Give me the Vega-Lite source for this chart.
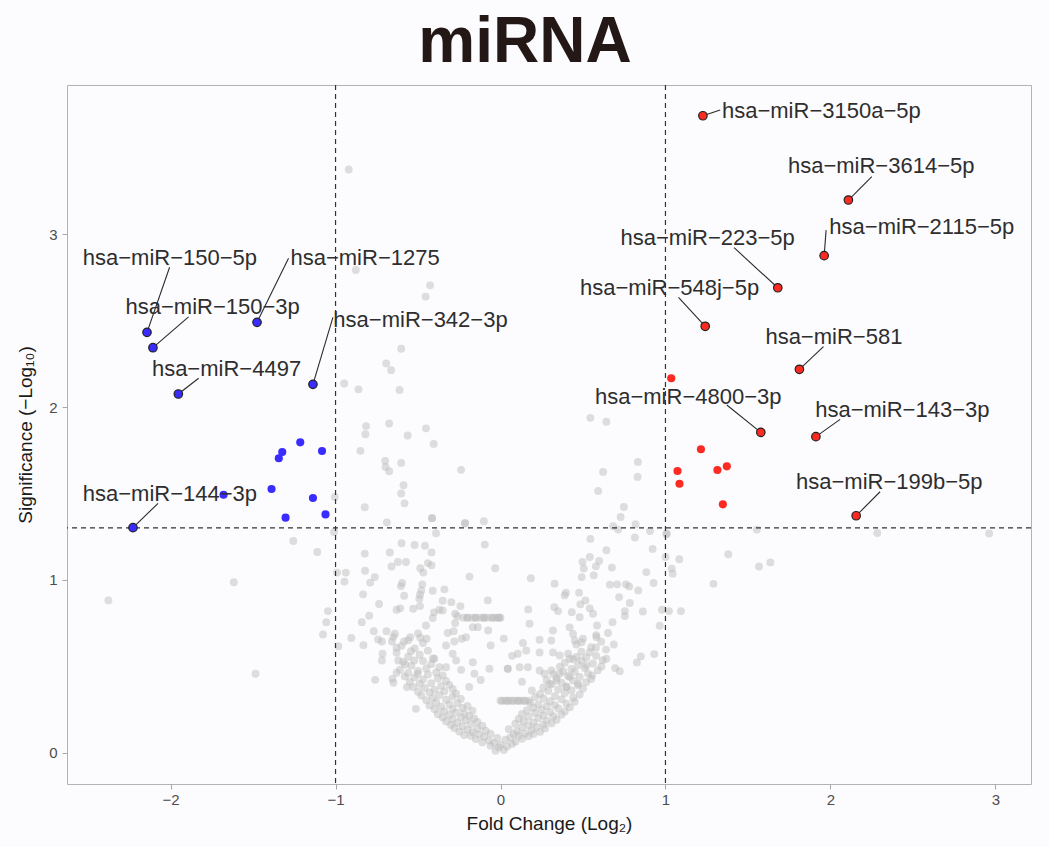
{
  "$schema": "https://vega.github.io/schema/vega-lite/v6.json",
  "width": 964,
  "height": 699,
  "autosize": {"type": "none"},
  "padding": {"left": 67, "top": 85, "right": 18, "bottom": 63},
  "background": "#fcfcfe",
  "title": {"text": "miRNA", "font": "Liberation Sans", "fontSize": 64, "fontWeight": "bold", "color": "#231815", "anchor": "middle", "frame": "group", "dx": -24, "offset": -55, "baseline": "bottom"},
  "config": {
    "view": {"stroke": "#b3b3b3", "strokeWidth": 1, "fill": "#fcfcfe"},
    "axis": {"grid": false, "domain": false, "tickColor": "#a8a8a8", "tickSize": 5, "labelFont": "Liberation Sans", "labelFontSize": 15, "labelColor": "#4d4d4d", "titleFont": "Liberation Sans", "titleFontSize": 19, "titleFontWeight": "normal", "titleColor": "#1a1a1a"}
  },
  "datasets": {
    "grey": [
      {"x":-0.92,"y":3.376},{"x":-0.877,"y":2.794},{"x":-0.427,"y":2.705},{"x":-0.454,"y":2.64},{"x":-0.602,"y":2.338},{"x":-0.693,"y":2.253},{"x":-0.663,"y":2.214},{"x":-0.948,"y":2.137},{"x":-0.861,"y":2.103},{"x":-0.612,"y":2.099},
      {"x":-0.815,"y":1.89},{"x":-0.675,"y":1.905},{"x":-0.452,"y":1.877},{"x":-0.819,"y":1.843},{"x":-0.563,"y":1.836},{"x":-0.405,"y":1.787},{"x":-0.849,"y":1.747},{"x":-0.699,"y":1.689},{"x":-0.697,"y":1.654},{"x":-0.675,"y":1.629},
      {"x":-0.602,"y":1.677},{"x":-0.239,"y":1.637},{"x":-0.588,"y":1.548},{"x":-0.602,"y":1.5},{"x":-0.582,"y":1.443},{"x":-1.005,"y":1.48},{"x":-0.823,"y":1.42},{"x":-0.689,"y":1.333},{"x":-0.415,"y":1.357},{"x":-0.415,"y":1.357},
      {"x":-0.215,"y":1.328},{"x":-0.215,"y":1.328},{"x":-0.101,"y":1.339},{"x":-1.009,"y":1.277},{"x":-0.391,"y":1.27},{"x":-1.111,"y":1.161},{"x":-0.823,"y":1.152},{"x":-0.671,"y":1.158},{"x":-0.6,"y":1.212},{"x":-0.521,"y":1.202},
      {"x":-0.458,"y":1.198},{"x":-0.418,"y":1.159},{"x":-0.095,"y":1.204},{"x":-0.622,"y":1.103},{"x":-0.573,"y":1.103},{"x":-0.661,"y":1.077},{"x":-0.44,"y":1.097},{"x":-0.418,"y":1.084},{"x":-0.486,"y":1.067},{"x":-0.468,"y":1.042},
      {"x":-0.032,"y":1.067},{"x":-0.188,"y":1.019},{"x":-0.991,"y":1.042},{"x":-0.938,"y":1.042},{"x":-0.946,"y":0.99},{"x":-0.821,"y":1.053},{"x":-0.762,"y":1.016},{"x":-0.79,"y":0.984},{"x":-0.596,"y":0.982},{"x":-0.474,"y":0.974},
      {"x":-2.377,"y":0.881},{"x":-1.617,"y":0.986},{"x":-1.485,"y":0.456},{"x":-1.256,"y":1.225},{"x":-0.604,"y":0.964},{"x":-0.411,"y":0.937},{"x":-0.34,"y":0.945},{"x":-0.833,"y":0.916},{"x":-0.584,"y":0.908},{"x":-0.488,"y":0.914},
      {"x":-0.48,"y":0.939},{"x":-0.492,"y":0.891},{"x":-0.736,"y":0.86},{"x":-0.351,"y":0.879},{"x":-0.298,"y":0.871},{"x":-0.488,"y":0.848},{"x":-0.63,"y":0.827},{"x":-0.608,"y":0.835},{"x":-0.529,"y":0.833},{"x":-0.243,"y":0.848},
      {"x":-0.077,"y":0.881},{"x":-1.046,"y":0.819},{"x":-0.796,"y":0.792},{"x":-0.403,"y":0.812},{"x":-0.371,"y":0.827},{"x":-0.351,"y":0.823},{"x":-0.275,"y":0.804},{"x":-0.261,"y":0.79},
      {"x":-0.225,"y":0.781},{"x":-0.2,"y":0.781},{"x":-0.17,"y":0.781},{"x":-0.15,"y":0.781},{"x":-0.12,"y":0.781},{"x":-0.1,"y":0.781},{"x":-0.08,"y":0.781},{"x":-0.05,"y":0.781},{"x":-0.03,"y":0.781},{"x":-0.01,"y":0.781},{"x":0.0,"y":0.781},
      {"x":-0.2,"y":0.781},{"x":-0.15,"y":0.781},{"x":-0.1,"y":0.781},{"x":-0.05,"y":0.781},{"x":-0.01,"y":0.781},
      {"x":-1.056,"y":0.755},{"x":-0.841,"y":0.755},{"x":-1.076,"y":0.684},{"x":-0.904,"y":0.663},{"x":-0.983,"y":0.616},{"x":-0.831,"y":0.622},{"x":-0.768,"y":0.703},{"x":-0.691,"y":0.703},{"x":-0.64,"y":0.688},{"x":-0.742,"y":0.655},
      {"x":-0.719,"y":0.643},{"x":-0.658,"y":0.643},{"x":-0.63,"y":0.607},{"x":-0.585,"y":0.643},{"x":-0.547,"y":0.668},{"x":-0.486,"y":0.665},{"x":-0.448,"y":0.659},{"x":-0.452,"y":0.736},{"x":-0.411,"y":0.779},{"x":-0.32,"y":0.692},
      {"x":-0.284,"y":0.703},{"x":-0.275,"y":0.75},{"x":-0.209,"y":0.668},{"x":-0.235,"y":0.659},{"x":-0.28,"y":0.643},{"x":-0.33,"y":0.62},{"x":-0.168,"y":0.726},{"x":-0.138,"y":0.726},{"x":-0.075,"y":0.707},{"x":-0.715,"y":0.572},
      {"x":-0.719,"y":0.533},{"x":-0.62,"y":0.533},{"x":-0.578,"y":0.51},{"x":-0.523,"y":0.533},{"x":-0.543,"y":0.587},{"x":-0.503,"y":0.456},{"x":-0.63,"y":0.462},{"x":-0.655,"y":0.427},{"x":-0.649,"y":0.404},{"x":-0.76,"y":0.421},
      {"x":-0.567,"y":0.379},{"x":-0.513,"y":0.253},{"x":-0.401,"y":0.543},{"x":-0.33,"y":0.494},{"x":-0.29,"y":0.572},{"x":-0.269,"y":0.533},{"x":-0.239,"y":0.479},{"x":-0.168,"y":0.523},{"x":-0.158,"y":0.456},{"x":-0.067,"y":0.485},
      {"x":0.833,"y":1.683},{"x":0.831,"y":1.596},{"x":0.622,"y":1.625},{"x":0.592,"y":1.515},{"x":0.748,"y":1.422},{"x":0.728,"y":1.364},{"x":0.683,"y":1.31},{"x":0.713,"y":1.291},{"x":0.819,"y":1.322},{"x":0.906,"y":1.283},
      {"x":1.007,"y":1.264},{"x":0.545,"y":1.237},{"x":0.642,"y":1.171},{"x":0.815,"y":1.245},{"x":0.922,"y":1.179},{"x":0.497,"y":1.103},{"x":0.541,"y":1.132},{"x":0.598,"y":1.109},{"x":0.505,"y":1.065},{"x":0.578,"y":1.078},
      {"x":0.565,"y":1.026},{"x":0.492,"y":1.016},{"x":0.675,"y":1.071},{"x":0.884,"y":1.045},{"x":0.928,"y":0.982},{"x":0.835,"y":0.939},{"x":1.001,"y":1.132},{"x":1.038,"y":1.065},{"x":1.084,"y":1.119},{"x":1.044,"y":1.036},
      {"x":0.663,"y":0.972},{"x":0.707,"y":0.974},{"x":0.76,"y":0.974},{"x":0.78,"y":0.962},{"x":0.184,"y":1.009},{"x":0.328,"y":0.978},{"x":0.397,"y":0.926},{"x":0.476,"y":0.926},{"x":0.515,"y":0.881},{"x":0.484,"y":0.858},
      {"x":0.389,"y":0.91},{"x":0.719,"y":0.9},{"x":0.784,"y":0.866},{"x":0.863,"y":0.817},{"x":0.754,"y":0.819},{"x":0.754,"y":0.79},{"x":0.979,"y":0.827},{"x":1.021,"y":0.819},{"x":1.094,"y":0.819},{"x":0.965,"y":0.734},
      {"x":0.932,"y":0.57},{"x":0.851,"y":0.557},{"x":0.827,"y":0.522},{"x":0.326,"y":0.842},{"x":0.349,"y":0.819},{"x":0.541,"y":0.835},{"x":0.561,"y":0.804},{"x":0.432,"y":0.813},{"x":0.48,"y":0.784},{"x":0.168,"y":0.829},
      {"x":0.176,"y":0.746},{"x":0.419,"y":0.725},{"x":0.44,"y":0.687},{"x":0.585,"y":0.736},{"x":0.679,"y":0.755},{"x":0.652,"y":0.692},{"x":0.582,"y":0.668},{"x":0.687,"y":0.626},{"x":0.578,"y":0.607},{"x":0.541,"y":0.581},
      {"x":0.491,"y":0.639},{"x":0.45,"y":0.649},{"x":0.318,"y":0.707},{"x":0.237,"y":0.653},{"x":0.308,"y":0.649},{"x":0.136,"y":0.634},{"x":0.156,"y":0.591},{"x":0.105,"y":0.572},{"x":0.237,"y":0.58},{"x":0.318,"y":0.58},
      {"x":0.359,"y":0.562},{"x":0.419,"y":0.543},{"x":0.46,"y":0.553},{"x":0.491,"y":0.533},{"x":0.521,"y":0.504},{"x":0.642,"y":0.543},{"x":0.612,"y":0.499},{"x":0.695,"y":0.489},{"x":0.723,"y":0.471},{"x":0.555,"y":0.446},
      {"x":0.044,"y":0.485},{"x":0.044,"y":0.485},{"x":0.116,"y":0.494},{"x":0.166,"y":0.494},{"x":0.237,"y":0.475},{"x":0.267,"y":0.456},{"x":0.308,"y":0.475},{"x":0.359,"y":0.456},{"x":0.419,"y":0.437},{"x":0.47,"y":0.398},
      {"x":0.399,"y":0.379},{"x":0.339,"y":0.417},{"x":0.298,"y":0.398},{"x":0.545,"y":1.938},{"x":0.642,"y":1.915},{"x":1.381,"y":1.148},{"x":1.567,"y":1.077},{"x":1.636,"y":1.101},{"x":1.291,"y":0.977},{"x":1.554,"y":1.291},
      {"x":2.284,"y":1.271},{"x":2.962,"y":1.268},{"x":1.007,"y":1.268},
      {"x":0.0,"y":0.3},{"x":0.03,"y":0.3},{"x":0.05,"y":0.3},{"x":0.08,"y":0.3},{"x":0.1,"y":0.3},{"x":0.12,"y":0.3},{"x":0.15,"y":0.3},{"x":0.17,"y":0.3},
      {"x":0.01,"y":0.3},{"x":0.04,"y":0.3},{"x":0.07,"y":0.3},{"x":0.11,"y":0.3},{"x":0.14,"y":0.3},
      {"x":-0.03,"y":0.01},{"x":0.02,"y":0.015},{"x":-0.01,"y":0.03},{"x":0.04,"y":0.035},{"x":-0.06,"y":0.04},{"x":0.0,"y":0.045},{"x":0.07,"y":0.05},{"x":-0.04,"y":0.055},
      {"x":-0.11,"y":0.06},{"x":0.09,"y":0.062},{"x":-0.07,"y":0.07},{"x":0.03,"y":0.075},{"x":-0.15,"y":0.078},{"x":0.13,"y":0.08},{"x":-0.02,"y":0.085},{"x":0.06,"y":0.088},{"x":-0.1,"y":0.092},{"x":0.17,"y":0.095},{"x":-0.18,"y":0.097},{"x":0.11,"y":0.099},
      {"x":-0.22,"y":0.102},{"x":-0.13,"y":0.105},{"x":0.08,"y":0.106},{"x":0.2,"y":0.108},{"x":-0.06,"y":0.11},{"x":0.15,"y":0.112},{"x":-0.17,"y":0.118},{"x":0.24,"y":0.12},{"x":-0.25,"y":0.122},{"x":0.1,"y":0.124},
      {"x":-0.09,"y":0.127},{"x":0.19,"y":0.13},{"x":-0.2,"y":0.133},{"x":0.05,"y":0.135},{"x":-0.14,"y":0.138},{"x":0.27,"y":0.14},{"x":-0.28,"y":0.142},{"x":0.13,"y":0.145},{"x":0.22,"y":0.148},
      {"x":-0.23,"y":0.152},{"x":-0.11,"y":0.155},{"x":0.17,"y":0.157},{"x":-0.3,"y":0.16},{"x":0.26,"y":0.162},{"x":-0.18,"y":0.165},{"x":0.09,"y":0.167},{"x":0.31,"y":0.17},{"x":-0.26,"y":0.172},{"x":0.2,"y":0.175},
      {"x":-0.14,"y":0.178},{"x":-0.33,"y":0.18},{"x":0.14,"y":0.182},{"x":0.28,"y":0.185},{"x":-0.21,"y":0.188},{"x":0.34,"y":0.19},{"x":-0.29,"y":0.193},{"x":0.11,"y":0.195},{"x":-0.16,"y":0.198},{"x":0.23,"y":0.2},
      {"x":-0.35,"y":0.203},{"x":-0.24,"y":0.205},{"x":0.17,"y":0.207},{"x":0.32,"y":0.21},{"x":-0.19,"y":0.212},{"x":0.26,"y":0.215},{"x":-0.31,"y":0.218},{"x":0.37,"y":0.22},{"x":-0.38,"y":0.222},{"x":0.13,"y":0.224},
      {"x":-0.22,"y":0.227},{"x":0.21,"y":0.23},{"x":-0.27,"y":0.233},{"x":0.3,"y":0.235},{"x":0.39,"y":0.238},{"x":-0.34,"y":0.24},{"x":-0.17,"y":0.243},{"x":0.16,"y":0.245},{"x":0.25,"y":0.248},
      {"x":-0.4,"y":0.251},{"x":-0.29,"y":0.253},{"x":0.35,"y":0.255},{"x":-0.23,"y":0.258},{"x":0.2,"y":0.26},{"x":0.42,"y":0.262},{"x":-0.36,"y":0.265},{"x":0.28,"y":0.268},{"x":-0.2,"y":0.27},{"x":-0.43,"y":0.273},
      {"x":0.33,"y":0.275},{"x":0.23,"y":0.278},{"x":-0.31,"y":0.28},{"x":0.4,"y":0.283},{"x":-0.26,"y":0.286},{"x":0.18,"y":0.288},{"x":-0.39,"y":0.291},{"x":0.45,"y":0.294},{"x":0.3,"y":0.297},
      {"x":-0.45,"y":0.303},{"x":-0.33,"y":0.306},{"x":0.37,"y":0.308},{"x":-0.24,"y":0.311},{"x":0.26,"y":0.313},{"x":-0.41,"y":0.316},{"x":0.44,"y":0.318},{"x":0.21,"y":0.321},{"x":-0.29,"y":0.324},{"x":0.33,"y":0.327},
      {"x":-0.48,"y":0.33},{"x":-0.37,"y":0.333},{"x":0.48,"y":0.336},{"x":0.24,"y":0.339},{"x":-0.27,"y":0.342},{"x":0.39,"y":0.345},{"x":-0.43,"y":0.348},
      {"x":-0.5,"y":0.352},{"x":-0.34,"y":0.355},{"x":0.29,"y":0.357},{"x":0.43,"y":0.36},{"x":-0.4,"y":0.363},{"x":0.35,"y":0.366},{"x":-0.29,"y":0.368},{"x":0.5,"y":0.371},{"x":-0.46,"y":0.374},{"x":0.26,"y":0.377},
      {"x":-0.53,"y":0.38},{"x":0.4,"y":0.383},{"x":-0.36,"y":0.386},{"x":0.47,"y":0.389},{"x":-0.31,"y":0.392},{"x":0.31,"y":0.395},{"x":-0.49,"y":0.398},
      {"x":-0.42,"y":0.402},{"x":0.37,"y":0.405},{"x":0.52,"y":0.408},{"x":-0.55,"y":0.411},{"x":-0.33,"y":0.414},{"x":0.44,"y":0.417},{"x":0.28,"y":0.42},{"x":-0.47,"y":0.423},{"x":0.55,"y":0.426},{"x":-0.38,"y":0.429},
      {"x":0.34,"y":0.432},{"x":-0.52,"y":0.435},{"x":0.48,"y":0.438},{"x":-0.58,"y":0.441},{"x":0.41,"y":0.444},{"x":-0.35,"y":0.447},
      {"x":-0.44,"y":0.452},{"x":0.32,"y":0.455},{"x":0.53,"y":0.458},{"x":-0.56,"y":0.461},{"x":-0.39,"y":0.464},{"x":0.45,"y":0.467},{"x":0.38,"y":0.47},{"x":-0.5,"y":0.473},{"x":0.59,"y":0.476},{"x":-0.61,"y":0.48},
      {"x":0.43,"y":0.484},{"x":-0.45,"y":0.487},{"x":0.51,"y":0.49},{"x":-0.37,"y":0.494},{"x":0.36,"y":0.497},
      {"x":-0.54,"y":0.503},{"x":0.47,"y":0.507},{"x":-0.42,"y":0.512},{"x":0.56,"y":0.516},{"x":0.39,"y":0.52},{"x":-0.59,"y":0.525},{"x":-0.47,"y":0.53},{"x":0.62,"y":0.535},{"x":0.44,"y":0.54},{"x":-0.41,"y":0.545},
      {"x":0.52,"y":0.55},{"x":-0.56,"y":0.555},{"x":0.58,"y":0.56},{"x":-0.49,"y":0.566},{"x":0.41,"y":0.572},{"x":-0.63,"y":0.578},{"x":0.49,"y":0.584},{"x":-0.44,"y":0.59},{"x":0.64,"y":0.596},
      {"x":-0.52,"y":0.603},{"x":0.55,"y":0.61},{"x":-0.6,"y":0.618},{"x":0.46,"y":0.626},{"x":-0.47,"y":0.634},{"x":0.61,"y":0.642},{"x":-0.56,"y":0.65},{"x":0.5,"y":0.66},{"x":-0.65,"y":0.67},{"x":0.58,"y":0.68},{"x":-0.5,"y":0.69},
      {"x":-0.12,"y":0.42},{"x":0.07,"y":0.56},{"x":-0.06,"y":0.62},{"x":0.19,"y":0.36},{"x":-0.19,"y":0.38},{"x":0.02,"y":0.66},{"x":0.13,"y":0.41}
    ],
    "sig": [
      {"x":-1.214,"y":1.796,"d":"down"},{"x":-1.323,"y":1.74,"d":"down"},{"x":-1.344,"y":1.704,"d":"down"},{"x":-1.082,"y":1.746,"d":"down"},{"x":-1.388,"y":1.526,"d":"down"},
      {"x":-1.679,"y":1.493,"d":"down"},{"x":-1.137,"y":1.474,"d":"down"},{"x":-1.061,"y":1.379,"d":"down"},{"x":-1.303,"y":1.36,"d":"down"},
      {"x":1.035,"y":2.167,"d":"up"},{"x":1.215,"y":1.756,"d":"up"},{"x":1.073,"y":1.63,"d":"up"},{"x":1.085,"y":1.556,"d":"up"},{"x":1.315,"y":1.636,"d":"up"},{"x":1.372,"y":1.657,"d":"up"},{"x":1.348,"y":1.437,"d":"up"}
    ],
    "lab": [
      {"label":"hsa−miR−3150a−5p","d":"up","x":1.227,"y":3.687,"sx":1.332,"sy":3.72,"tx":1.945,"ty":3.716},
      {"label":"hsa−miR−3614−5p","d":"up","x":2.109,"y":3.199,"sx":2.251,"sy":3.334,"tx":2.308,"ty":3.396},
      {"label":"hsa−miR−2115−5p","d":"up","x":1.962,"y":2.877,"sx":1.974,"sy":3.025,"tx":2.554,"ty":3.045},
      {"label":"hsa−miR−223−5p","d":"up","x":1.681,"y":2.691,"sx":1.416,"sy":2.923,"tx":1.256,"ty":2.977},
      {"label":"hsa−miR−548j−5p","d":"up","x":1.241,"y":2.468,"sx":1.079,"sy":2.636,"tx":1.025,"ty":2.688},
      {"label":"hsa−miR−581","d":"up","x":1.812,"y":2.219,"sx":1.958,"sy":2.35,"tx":2.021,"ty":2.408},
      {"label":"hsa−miR−4800−3p","d":"up","x":1.578,"y":1.854,"sx":1.372,"sy":2.012,"tx":1.138,"ty":2.06},
      {"label":"hsa−miR−143−3p","d":"up","x":1.912,"y":1.829,"sx":2.059,"sy":1.929,"tx":2.436,"ty":1.983},
      {"label":"hsa−miR−199b−5p","d":"up","x":2.156,"y":1.371,"sx":2.301,"sy":1.51,"tx":2.357,"ty":1.568},
      {"label":"hsa−miR−150−5p","d":"down","x":-2.143,"y":2.433,"sx":-2.006,"sy":2.81,"tx":-2.004,"ty":2.862},
      {"label":"hsa−miR−150−3p","d":"down","x":-2.107,"y":2.344,"sx":-1.891,"sy":2.523,"tx":-1.745,"ty":2.578},
      {"label":"hsa−miR−1275","d":"down","x":-1.476,"y":2.491,"sx":-1.285,"sy":2.862,"tx":-0.821,"ty":2.862},
      {"label":"hsa−miR−4497","d":"down","x":-1.953,"y":2.076,"sx":-1.83,"sy":2.167,"tx":-1.661,"ty":2.221},
      {"label":"hsa−miR−342−3p","d":"down","x":-1.137,"y":2.132,"sx":-1.016,"sy":2.52,"tx":-0.485,"ty":2.504},
      {"label":"hsa−miR−144−3p","d":"down","x":-2.228,"y":1.302,"sx":-2.076,"sy":1.443,"tx":-2.004,"ty":1.497}
    ],
    "vlines": [{"v":-1},{"v":1}],
    "hlines": [{"h":1.301}]
  },
  "layer": [
    {
      "data": {"name": "grey"},
      "mark": {"type": "circle", "size": 62, "color": "#bdbdbd", "opacity": 0.5},
      "encoding": {
        "x": {"field": "x", "type": "quantitative", "scale": {"domain": [-2.628, 3.216], "nice": false, "zero": false}, "axis": {"values": [-2,-1,0,1,2,3], "format": "d", "title": "Fold Change (Log₂)", "labelPadding": 3, "titlePadding": 7}},
        "y": {"field": "y", "type": "quantitative", "scale": {"domain": [-0.182, 3.865], "nice": false, "zero": false}, "axis": {"values": [0,1,2,3], "format": "d", "title": "Significance (−Log₁₀)", "labelPadding": 5, "titlePadding": 13}}
      }
    },
    {
      "data": {"name": "vlines"},
      "mark": {"type": "rule", "color": "#333333", "strokeWidth": 1.2, "strokeDash": [5, 4]},
      "encoding": {"x": {"field": "v", "type": "quantitative", "title": "Fold Change (Log₂)"}}
    },
    {
      "data": {"name": "hlines"},
      "mark": {"type": "rule", "color": "#333333", "strokeWidth": 1.2, "strokeDash": [5, 4]},
      "encoding": {"y": {"field": "h", "type": "quantitative", "title": "Significance (−Log₁₀)"}}
    },
    {
      "data": {"name": "sig"},
      "mark": {"type": "circle", "size": 66, "opacity": 1},
      "encoding": {
        "x": {"field": "x", "type": "quantitative", "title": "Fold Change (Log₂)"},
        "y": {"field": "y", "type": "quantitative", "title": "Significance (−Log₁₀)"},
        "color": {"field": "d", "type": "nominal", "scale": {"domain": ["down", "up"], "range": ["#3a2cff", "#fb2a22"]}, "legend": null}
      }
    },
    {
      "data": {"name": "lab"},
      "mark": {"type": "rule", "color": "#2b2b2b", "strokeWidth": 1.1},
      "encoding": {
        "x": {"field": "x", "type": "quantitative", "title": "Fold Change (Log₂)"},
        "y": {"field": "y", "type": "quantitative", "title": "Significance (−Log₁₀)"},
        "x2": {"field": "sx"},
        "y2": {"field": "sy"}
      }
    },
    {
      "data": {"name": "lab"},
      "mark": {"type": "circle", "size": 72, "opacity": 1, "stroke": "#222222", "strokeWidth": 1.2},
      "encoding": {
        "x": {"field": "x", "type": "quantitative", "title": "Fold Change (Log₂)"},
        "y": {"field": "y", "type": "quantitative", "title": "Significance (−Log₁₀)"},
        "color": {"field": "d", "type": "nominal", "scale": {"domain": ["down", "up"], "range": ["#3a2cff", "#fb2a22"]}, "legend": null}
      }
    },
    {
      "data": {"name": "lab"},
      "mark": {"type": "text", "font": "Liberation Sans", "fontSize": 22, "color": "#2e2e2e", "align": "center", "baseline": "middle"},
      "encoding": {
        "x": {"field": "tx", "type": "quantitative", "title": "Fold Change (Log₂)"},
        "y": {"field": "ty", "type": "quantitative", "title": "Significance (−Log₁₀)"},
        "text": {"field": "label"}
      }
    }
  ]
}
